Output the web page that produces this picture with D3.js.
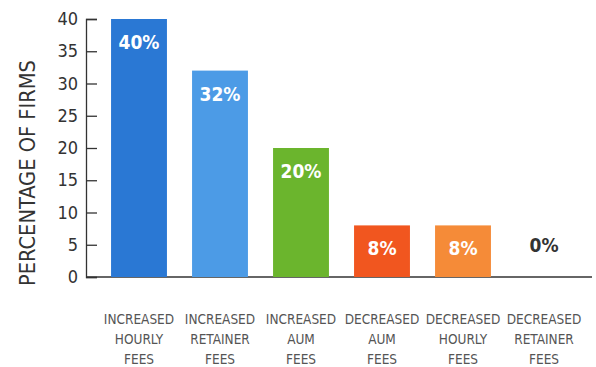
<!DOCTYPE html>
<html>
<head>
<meta charset="utf-8">
<script src="https://cdn.jsdelivr.net/npm/d3@7"></script>
<style>
  body { margin: 0; background: #fff; }
  text { font-family: "Liberation Sans Narrow", "DejaVu Sans Condensed", "Roboto", sans-serif; }
</style>
</head>
<body>
<div id="chart"></div>
<script>
let categories = [
  ["INCREASED", "HOURLY", "FEES"],
  ["INCREASED", "RETAINER", "FEES"],
  ["INCREASED", "AUM", "FEES"],
  ["DECREASED", "AUM", "FEES"],
  ["DECREASED", "HOURLY", "FEES"],
  ["DECREASED", "RETAINER", "FEES"]
]
let values = [40, 32, 20, 8, 8, 0]
let barColors = ["#2a78d4", "#4c9be6", "#6bb52d", "#f1561f", "#f58b38", "#cccccc"]
let yTicks = [0, 5, 10, 15, 20, 25, 30, 35, 40]

let width = 596, height = 367

let svg = d3.select('#chart').append('svg')
    .attr('width', width)
    .attr('height', height)

let keys = categories.map(c => c.join(' '))

let x = d3.scaleBand()
    .domain(keys)
    .range([98.5, 584.5])
    .paddingInner(0.31)
    .paddingOuter(0.155)

let y = d3.scaleLinear()
    .domain([0, 40])
    .range([277, 19])

// y axis
let yAxis = d3.axisRight(y)
    .tickValues(yTicks)
    .tickSize(11)
    .tickFormat('')

let yg = svg.append('g')
    .attr('transform', 'translate(86,0)')
    .call(yAxis)
yg.select('.domain').attr('stroke', '#333').attr('stroke-width', 1.3)
yg.selectAll('.tick line').attr('stroke', '#333').attr('stroke-width', 1.3)

svg.append('g').selectAll('text.ylab')
    .data(yTicks)
    .enter().append('text')
    .attr('class', 'ylab')
    .attr('x', 78)
    .attr('y', d => y(d) + 6)
    .attr('text-anchor', 'end')
    .attr('font-size', 18)
    .attr('fill', '#333')
    .text(d => d)

// baseline
svg.append('line')
    .attr('x1', 86).attr('x2', 592)
    .attr('y1', y(0)).attr('y2', y(0))
    .attr('stroke', '#333')
    .attr('stroke-width', 1.5)

svg.append('text')
    .attr('transform', 'translate(35,' + 173 + ') rotate(-90)')
    .attr('text-anchor', 'middle')
    .attr('font-size', 21)
    .attr('fill', '#333')
    .attr('textLength', 226)
    .attr('lengthAdjust', 'spacingAndGlyphs')
    .text('PERCENTAGE OF FIRMS')

// bars
svg.append('g').selectAll('rect')
    .data(values)
    .enter().append('rect')
    .attr('x', (d, i) => x(keys[i]))
    .attr('y', d => y(d))
    .attr('width', x.bandwidth())
    .attr('height', d => y(0) - y(d))
    .attr('fill', (d, i) => barColors[i])

svg.append('g').selectAll('text.val')
    .data(values)
    .enter().append('text')
    .attr('class', 'val')
    .attr('x', (d, i) => x(keys[i]) + x.bandwidth() / 2)
    .attr('y', d => d > 0 ? y(d) + 30 : y(0) - 25)
    .attr('text-anchor', 'middle')
    .attr('font-size', 19)
    .attr('font-weight', 'bold')
    .attr('fill', d => d > 0 ? '#fff' : '#333')
    .text(d => d + '%')

// category labels
let cat = svg.append('g').selectAll('g.cat')
    .data(categories)
    .enter().append('g')
    .attr('transform', (d, i) => 'translate(' + (x(keys[i]) + x.bandwidth() / 2) + ',0)')

cat.selectAll('text')
    .data(d => d)
    .enter().append('text')
    .attr('y', (d, i) => 324 + i * 20)
    .attr('text-anchor', 'middle')
    .attr('font-size', 13.5)
    .attr('fill', '#555')
    .text(d => d)
</script>
</body>
</html>
